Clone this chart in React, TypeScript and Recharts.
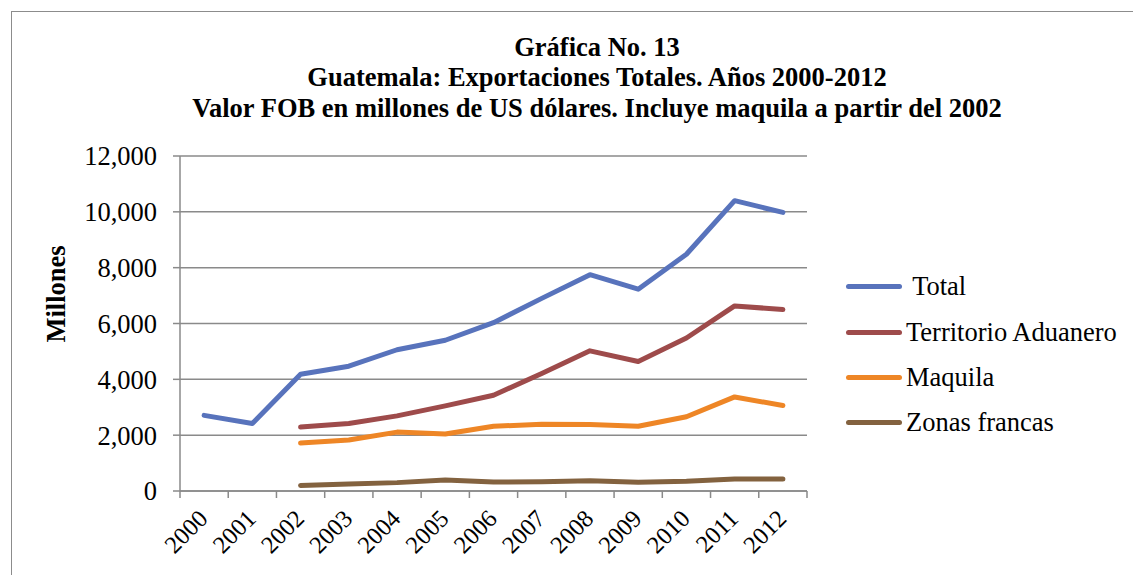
import React from 'react';
import {
  LineChart,
  Line,
  XAxis,
  YAxis,
  CartesianGrid,
  Legend,
} from 'recharts';

const years = ['2000', '2001', '2002', '2003', '2004', '2005', '2006', '2007', '2008', '2009', '2010', '2011', '2012'];
const total = [2710, 2420, 4180, 4470, 5060, 5400, 6030, 6900, 7750, 7230, 8480, 10400, 9980];
const territorio = [null, null, 2290, 2420, 2690, 3050, 3430, 4210, 5020, 4640, 5480, 6630, 6500];
const maquila = [null, null, 1720, 1830, 2110, 2040, 2320, 2390, 2380, 2320, 2660, 3370, 3060];
const zonas = [null, null, 200, 250, 300, 390, 320, 330, 370, 310, 350, 430, 430];
const yTicks = [0, 2000, 4000, 6000, 8000, 10000, 12000];

const seriesInfo = [
  { key: 'total', name: ' Total', color: '#5873BC' },
  { key: 'territorio', name: 'Territorio Aduanero', color: '#9E4B4B' },
  { key: 'maquila', name: 'Maquila', color: '#EE8626' },
  { key: 'zonas', name: 'Zonas francas', color: '#83623F' },
];

const data = years.map((year, i) => ({
  year,
  total: total[i],
  territorio: territorio[i],
  maquila: maquila[i],
  zonas: zonas[i],
}));

const FONT = "'Liberation Serif', serif";
const AXIS = '#8a8a8a';
const PLOT_LEFT = 180;
const PLOT_RIGHT = 807;
const HALF = (PLOT_RIGHT - PLOT_LEFT) / years.length / 2;

// Excel-style category axis: tick marks sit between categories, labels at -45°
function YearTick(props: any) {
  const { x, y, payload, index } = props;
  const last = index === years.length - 1;
  const tx = x + 5;
  const ty = y + 21;
  return (
    <g>
      <line x1={x - HALF} x2={x - HALF} y1={y - 8} y2={y - 1} stroke={AXIS} strokeWidth={1.5} />
      {last && <line x1={x + HALF} x2={x + HALF} y1={y - 8} y2={y - 1} stroke={AXIS} strokeWidth={1.5} />}
      <text
        x={tx}
        y={ty}
        textAnchor="end"
        transform={`rotate(-45, ${tx}, ${ty})`}
        style={{ fontFamily: FONT, fontSize: 24.5 }}
        fill="#000"
      >
        {payload.value}
      </text>
    </g>
  );
}

function LegendBox(props: any) {
  const order = seriesInfo.map((s) => s.name);
  const items = [...(props.payload || [])].sort(
    (a: any, b: any) => order.indexOf(a.value) - order.indexOf(b.value)
  );
  return (
    <div style={{ fontFamily: FONT, fontSize: 26.5, color: '#000' }}>
      {items.map((item: any) => (
        <div key={item.value} style={{ display: 'flex', alignItems: 'center', height: 45.4 }}>
          <span style={{ display: 'inline-block', width: 56, height: 5, borderRadius: 3, background: item.color }} />
          <span style={{ whiteSpace: 'pre', marginLeft: 4 }}>{item.value}</span>
        </div>
      ))}
    </div>
  );
}

export default function App() {
  return (
    <div style={{ position: 'absolute', left: 0, top: 0, width: 1133, height: 575, background: '#fff', fontFamily: FONT }}>
      <div
        style={{
          position: 'absolute',
          left: 11,
          top: 11,
          width: 1140,
          height: 600,
          border: '1.5px solid #8c8c8c',
          boxSizing: 'border-box',
        }}
      />
      <div
        style={{
          position: 'absolute',
          left: 0,
          top: 31.5,
          width: 1194,
          textAlign: 'center',
          fontFamily: FONT,
          fontWeight: 'bold',
          fontSize: 26.5,
          lineHeight: '30.5px',
          whiteSpace: 'nowrap',
        }}
      >
        <div>Gráfica No. 13</div>
        <div>Guatemala: Exportaciones Totales. Años 2000-2012</div>
        <div>Valor FOB en millones de US dólares. Incluye maquila a partir del 2002</div>
      </div>
      <div
        style={{
          position: 'absolute',
          left: 56,
          top: 294,
          transform: 'translate(-50%, -50%) rotate(-90deg)',
          fontFamily: FONT,
          fontWeight: 'bold',
          fontSize: 26.5,
          whiteSpace: 'nowrap',
        }}
      >
        Millones
      </div>
      <LineChart
        width={1133}
        height={575}
        data={data}
        margin={{ top: 156, right: 1133 - PLOT_RIGHT, bottom: 0, left: 80 }}
        style={{ position: 'absolute', left: 0, top: 0, fontFamily: FONT }}
      >
        <CartesianGrid vertical={false} stroke={AXIS} strokeWidth={1.5} />
        <XAxis
          dataKey="year"
          height={84}
          padding={{ left: HALF, right: HALF }}
          axisLine={{ stroke: AXIS, strokeWidth: 1.5 }}
          tickLine={false}
          tick={<YearTick />}
          interval={0}
        />
        <YAxis
          width={100}
          domain={[0, 12000]}
          ticks={yTicks}
          tickFormatter={(v: number) => v.toLocaleString('en-US')}
          axisLine={{ stroke: AXIS, strokeWidth: 1.5 }}
          tickLine={{ stroke: AXIS, strokeWidth: 1.5 }}
          tickSize={7}
          tickMargin={16}
          tick={{ fill: '#000', style: { fontFamily: FONT, fontSize: 26.5 } }}
        />
        <Legend
          layout="vertical"
          align="center"
          verticalAlign="middle"
          wrapperStyle={{ left: 846, top: 264, width: 285 }}
          content={<LegendBox />}
        />
        {seriesInfo.map((s) => (
          <Line
            key={s.key}
            type="linear"
            dataKey={s.key}
            name={s.name}
            stroke={s.color}
            strokeWidth={5}
            strokeLinecap="round"
            strokeLinejoin="round"
            dot={false}
            activeDot={false}
            isAnimationActive={false}
          />
        ))}
      </LineChart>
    </div>
  );
}
